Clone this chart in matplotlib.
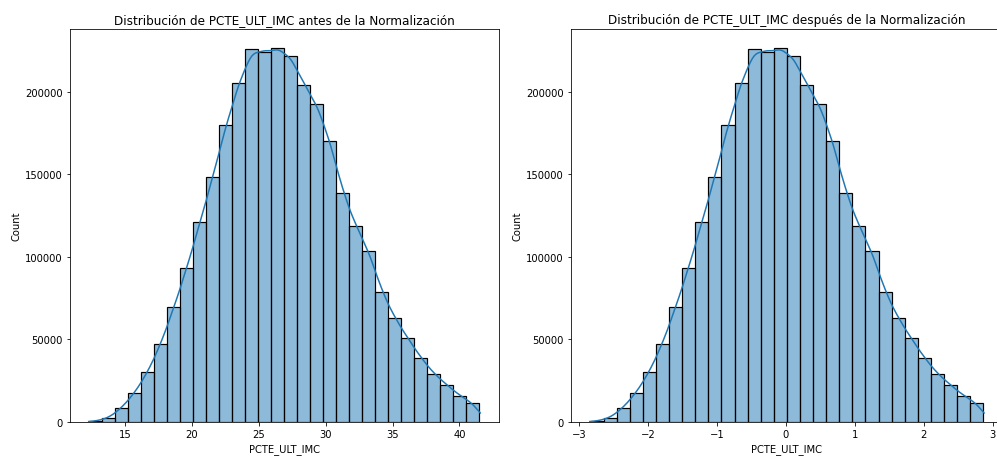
import numpy as np
import pandas as pd
import matplotlib
matplotlib.use('Agg')
import matplotlib.pyplot as plt
import seaborn as sns

# bin counts of PCTE_ULT_IMC (30 bins), same counts before and after scaling
counts = [500, 2400, 8700, 17800, 30400, 47400, 69500, 93500, 120900, 148700,
          179900, 205300, 226000, 224000, 226800, 221500, 204500, 192500, 170400, 139000,
          118500, 103600, 78700, 62900, 50700, 38900, 29200, 22500, 15800, 11800]

# range of the variable in each panel
raw_range = (12.35, 41.5)
std_range = (-2.83, 2.865)

panels = [
    ('antes', raw_range),
    ('después', std_range),
]

fig, axes = plt.subplots(1, 2, figsize=(13.86, 6.347), dpi=72)

for ax, (stage, (lo, hi)) in zip(axes, panels):
    nb = len(counts)
    step = (hi - lo) / nb
    df = pd.DataFrame({'PCTE_ULT_IMC': lo + step * (np.arange(nb) + 0.5),
                       'n': counts})
    sns.histplot(data=df, x='PCTE_ULT_IMC', weights='n', bins=nb,
                 binrange=(lo, hi), kde=True,
                 kde_kws={'bw_adjust': 0.21, 'cut': 0.6},
                 line_kws={'color': '#2a78a8'}, linewidth=1.2, ax=ax)
    ax.set_xlim(lo - 0.05 * (hi - lo), hi + 0.05 * (hi - lo))
    ax.set_title(f'Distribución de PCTE_ULT_IMC {stage} de la Normalización')
    ax.set_xlabel('PCTE_ULT_IMC')
    ax.set_ylabel('Count')

W, H = 998, 457
axes[0].set_position([70 / W, 1 - 423 / H, 429 / W, 393 / H])
axes[1].set_position([571 / W, 1 - 423 / H, 432 / W, 393 / H])

fig.savefig('out.png', dpi=72)
